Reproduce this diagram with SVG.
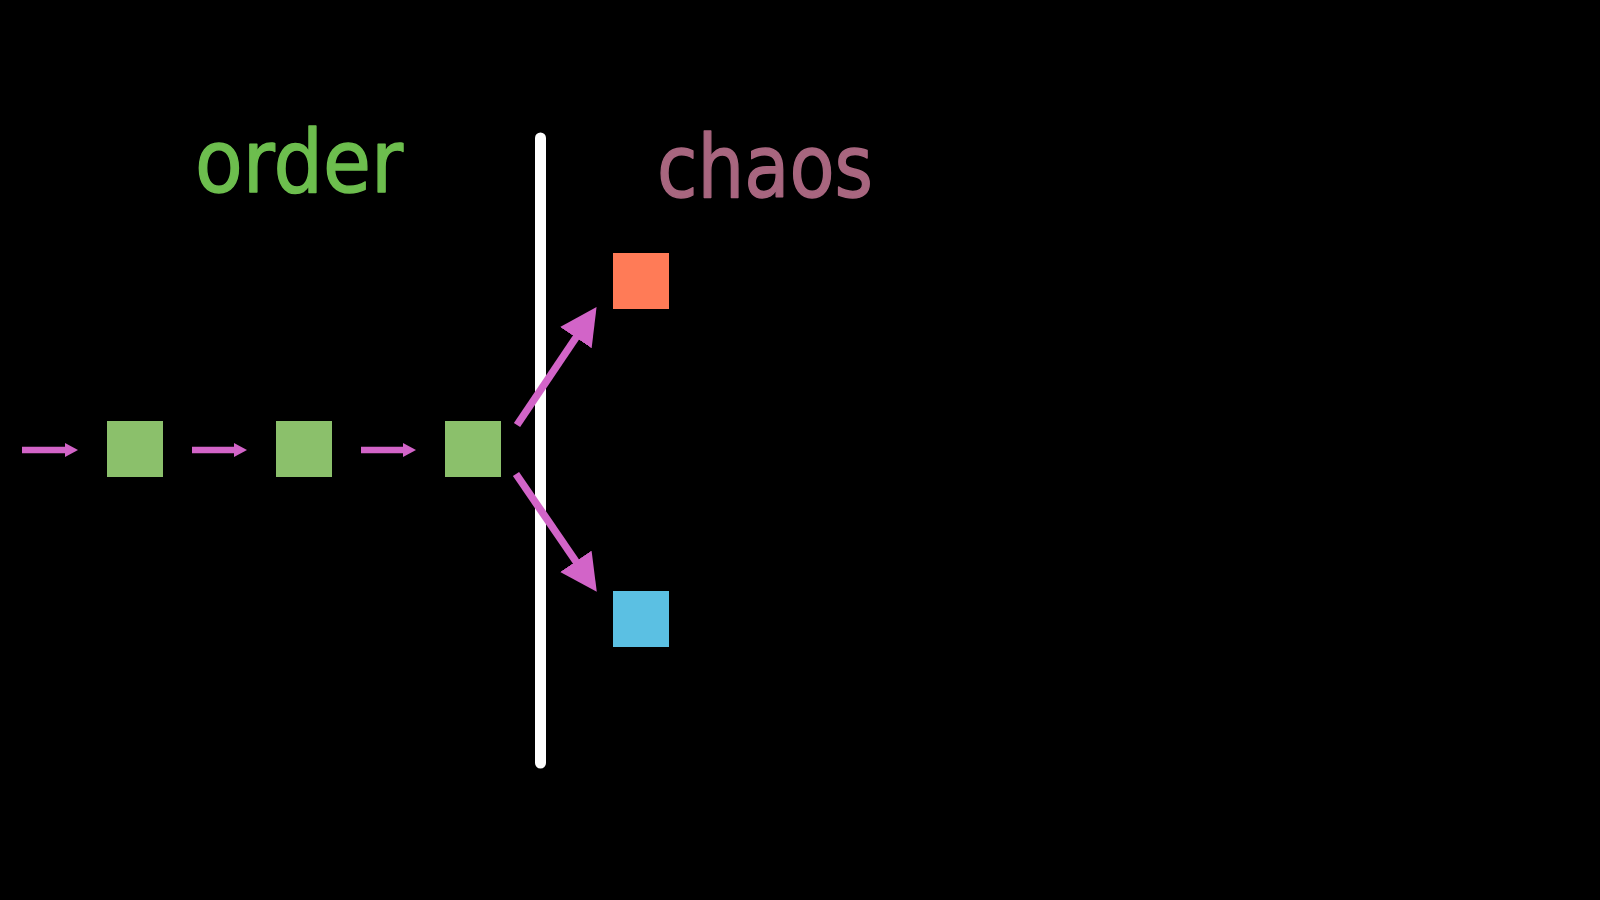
<svg xmlns="http://www.w3.org/2000/svg" width="1600" height="900" viewBox="0 0 1600 900">
  <style>
    .sq-green { fill: #8BC06B; }
    .label { font-family: "DejaVu Sans", "Liberation Sans", sans-serif; stroke-linejoin: round; stroke-linecap: round; stroke-width: 1.5; }
    .arrow-small { stroke: #D264C8; stroke-width: 6.5; fill: none; }
    .arrow-big { stroke: #D264C8; stroke-width: 7.5; fill: none; }
  </style>
  <defs>
    <marker id="headSmall" markerUnits="userSpaceOnUse" markerWidth="14" markerHeight="15" refX="1" refY="7" orient="auto" viewBox="0 0 14 14">
      <path d="M0,0 L13,7 L0,14 z" fill="#D264C8"/>
    </marker>
    <marker id="headBig" markerUnits="userSpaceOnUse" markerWidth="38" markerHeight="39" refX="2" refY="19" orient="auto" viewBox="0 0 38 38">
      <path d="M0,0 L37,19 L0,38 z" fill="#D264C8"/>
    </marker>
  </defs>
  <rect width="1600" height="900" fill="#000000"/>

  <g id="label-order">
    <text class="label" x="195" y="192" font-size="88" fill="#6DBE4E" stroke="#6DBE4E" textLength="208" lengthAdjust="spacingAndGlyphs">order</text>
  </g>
  <g id="label-chaos">
    <text class="label" x="657" y="197" font-size="88" fill="#A8667F" stroke="#A8667F" textLength="216" lengthAdjust="spacingAndGlyphs">chaos</text>
  </g>

  <g id="divider">
    <line x1="540.5" y1="138" x2="540.5" y2="763" stroke="#FFFFFF" stroke-width="11" stroke-linecap="round"/>
  </g>

  <g id="node-green-1"><rect class="sq-green" x="107" y="421" width="56" height="56"/></g>
  <g id="node-green-2"><rect class="sq-green" x="276" y="421" width="56" height="56"/></g>
  <g id="node-green-3"><rect class="sq-green" x="445" y="421" width="56" height="56"/></g>
  <g id="node-orange"><rect x="613" y="253" width="56" height="56" fill="#FF7B57"/></g>
  <g id="node-blue"><rect x="613" y="591" width="56" height="56" fill="#5BC0E3"/></g>

  <g id="connectors">
    <line class="arrow-small" x1="22" y1="450" x2="66" y2="450" marker-end="url(#headSmall)"/>
    <line class="arrow-small" x1="192" y1="450" x2="235" y2="450" marker-end="url(#headSmall)"/>
    <line class="arrow-small" x1="361" y1="450" x2="404" y2="450" marker-end="url(#headSmall)"/>
    <line class="arrow-big" x1="517" y1="425" x2="577" y2="336" marker-end="url(#headBig)"/>
    <line class="arrow-big" x1="516" y1="474" x2="577" y2="563" marker-end="url(#headBig)"/>
  </g>
</svg>
